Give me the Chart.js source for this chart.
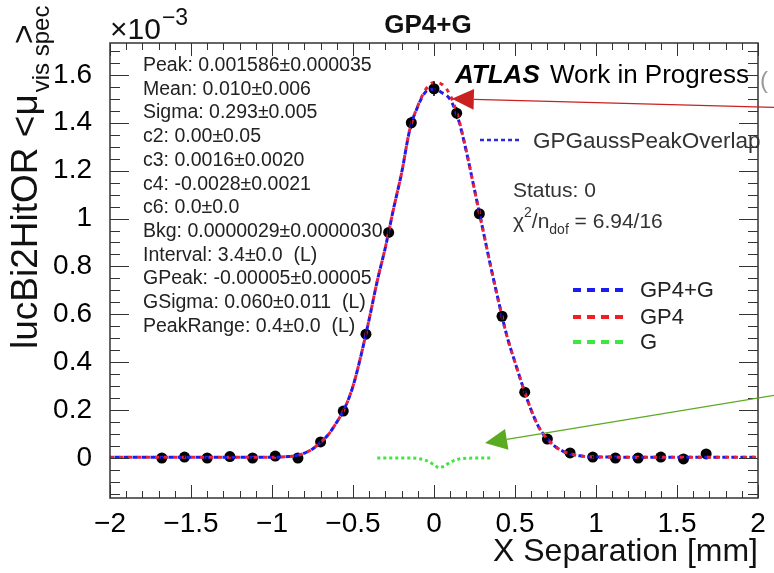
<!DOCTYPE html>
<html>
<head>
<meta charset="utf-8">
<script src="https://cdn.jsdelivr.net/npm/chart.js@4.4.1/dist/chart.umd.min.js"></script>
<style>
  html, body { margin: 0; padding: 0; background: #fff; }
</style>
</head>
<body>
<canvas id="myChart" width="774" height="573"></canvas>
<script>
// Scan points (x in mm, y in units of 1e-3)
const scanX = [-1.68, -1.54, -1.40, -1.26, -1.12, -0.98, -0.84, -0.70, -0.56, -0.42, -0.28, -0.14,
  0.00, 0.14, 0.28, 0.42, 0.56, 0.70, 0.84, 0.98, 1.12, 1.26, 1.40, 1.54, 1.68];
const lumi = [0.000, 0.004, 0.000, 0.006, 0.000, 0.008, 0.000, 0.067, 0.196, 0.517, 0.942, 1.400,
  1.542, 1.440, 1.020, 0.592, 0.275, 0.079, 0.021, 0.004, 0.000, 0.000, 0.004, -0.004, 0.017];
const lumiErr = [0.004, 0.004, 0.004, 0.004, 0.004, 0.004, 0.004, 0.006, 0.010, 0.015, 0.020, 0.025,
  0.030, 0.025, 0.020, 0.015, 0.010, 0.006, 0.004, 0.004, 0.004, 0.004, 0.004, 0.004, 0.004];

// Fit curves
const curveX = [-2.0, -1.0, -0.9, -0.85, -0.8, -0.75, -0.7, -0.65, -0.6, -0.55, -0.5, -0.45, -0.4,
  -0.35, -0.3, -0.25, -0.2, -0.15, -0.1, -0.05, 0.0, 0.05, 0.1, 0.15, 0.2, 0.25, 0.3, 0.35, 0.4,
  0.45, 0.5, 0.55, 0.6, 0.65, 0.7, 0.75, 0.8, 0.85, 0.9, 1.0, 2.0];
const gp4Fit = [0.003, 0.003, 0.006, 0.010, 0.020, 0.038, 0.065, 0.100, 0.150, 0.210, 0.300, 0.430, 0.580,
  0.740, 0.880, 1.040, 1.190, 1.370, 1.470, 1.540, 1.568, 1.560, 1.515, 1.420, 1.280, 1.120, 0.960, 0.800, 0.650,
  0.510, 0.400, 0.295, 0.200, 0.125, 0.079, 0.047, 0.027, 0.016, 0.009, 0.004, 0.003];
const gp4gFit = [0.003, 0.003, 0.006, 0.010, 0.020, 0.038, 0.065, 0.100, 0.150, 0.210, 0.300, 0.430, 0.580,
  0.740, 0.880, 1.040, 1.190, 1.370, 1.468, 1.530, 1.540, 1.525, 1.497, 1.415, 1.279, 1.120, 0.960, 0.800, 0.650,
  0.510, 0.400, 0.295, 0.200, 0.125, 0.079, 0.047, 0.027, 0.016, 0.009, 0.004, 0.003];
const gX = [-0.35, -0.15, -0.1, -0.05, 0.0, 0.03, 0.06, 0.1, 0.15, 0.2, 0.35];
const gFit = [0.0, 0.0, -0.002, -0.010, -0.028, -0.040, -0.035, -0.018, -0.005, -0.001, 0.0];

const fitParams = [
  "Peak: 0.001586\u00b10.000035",
  "Mean: 0.010\u00b10.006",
  "Sigma: 0.293\u00b10.005",
  "c2: 0.00\u00b10.05",
  "c3: 0.0016\u00b10.0020",
  "c4: -0.0028\u00b10.0021",
  "c6: 0.0\u00b10.0",
  "Bkg: 0.0000029\u00b10.0000030",
  "Interval: 3.4\u00b10.0  (L)",
  "GPeak: -0.00005\u00b10.00005",
  "GSigma: 0.060\u00b10.011  (L)",
  "PeakRange: 0.4\u00b10.0  (L)"
];

const FONT = "'Liberation Sans', Arial, Helvetica, sans-serif";
const toPts = (xs, ys) => xs.map((x, i) => ({ x: x, y: ys[i] }));
const minus = (v) => (v < 0 ? "\u2212" + String(Math.abs(v)) : String(v));

// ROOT-like frame, ticks, text and arrows
const rootStyle = {
  id: "rootStyle",
  afterDatasetsDraw(chart) {
    const ctx = chart.ctx;
    const xs = chart.scales.x;
    const ys = chart.scales.y;

    // error bars
    ctx.save();
    ctx.strokeStyle = "#000";
    ctx.lineWidth = 1.5;
    scanX.forEach((x, i) => {
      const px = xs.getPixelForValue(x);
      ctx.beginPath();
      ctx.moveTo(px, ys.getPixelForValue(lumi[i] - lumiErr[i]));
      ctx.lineTo(px, ys.getPixelForValue(lumi[i] + lumiErr[i]));
      ctx.stroke();
    });
    ctx.restore();
  },
  afterDraw(chart) {
    const ctx = chart.ctx;
    const xs = chart.scales.x;
    const ys = chart.scales.y;
    const a = chart.chartArea;
    ctx.save();

    // frame
    ctx.strokeStyle = "#333";
    ctx.lineWidth = 1.5;
    ctx.strokeRect(a.left, a.top, a.right - a.left, a.bottom - a.top);

    // ticks, pointing inside
    ctx.lineWidth = 1;
    ctx.beginPath();
    for (let i = -20; i <= 20; i++) {
      const px = Math.round(xs.getPixelForValue(i / 10)) + 0.5;
      const len = i % 5 === 0 ? 13 : 7;
      ctx.moveTo(px, a.bottom); ctx.lineTo(px, a.bottom - len);
      ctx.moveTo(px, a.top); ctx.lineTo(px, a.top + len);
    }
    for (let i = -3; i <= 34; i++) {
      const py = Math.round(ys.getPixelForValue(i * 0.05)) + 0.5;
      const len = i % 4 === 0 ? 19 : 10;
      ctx.moveTo(a.left, py); ctx.lineTo(a.left + len, py);
      ctx.moveTo(a.right, py); ctx.lineTo(a.right - len, py);
    }
    ctx.stroke();

    ctx.fillStyle = "#111";
    ctx.textBaseline = "alphabetic";

    // title
    ctx.font = "bold 26px " + FONT;
    ctx.textAlign = "center";
    ctx.fillText("GP4+G", 428, 33);

    // x10^-3
    ctx.textAlign = "left";
    ctx.font = "30px " + FONT;
    ctx.fillText("\u00d710", 110, 39);
    const wx = ctx.measureText("\u00d710").width;
    ctx.font = "23px " + FONT;
    ctx.fillText("\u22123", 110 + wx + 1, 25);

    // x axis title
    ctx.textAlign = "right";
    ctx.font = "32px " + FONT;
    ctx.fillText("X Separation [mm]", a.right, 561);

    // y axis title (rotated)
    ctx.save();
    ctx.translate(37, 349);
    ctx.rotate(-Math.PI / 2);
    ctx.textAlign = "left";
    ctx.font = "37px " + FONT;
    const mainTxt = "lucBi2HitOR <\u03bc";
    ctx.fillText(mainTxt, 0, 0);
    const w = ctx.measureText(mainTxt).width;
    ctx.font = "24px " + FONT;
    ctx.fillText("vis spec", w + 2, 12);
    ctx.font = "34px " + FONT;
    ctx.fillText(">", w + 50, -2);
    ctx.restore();

    // fit parameters
    ctx.font = "19.5px " + FONT;
    ctx.fillStyle = "#222";
    ctx.textAlign = "left";
    fitParams.forEach((t, i) => ctx.fillText(t, 143, 71 + i * 23.7));

    // ATLAS label
    ctx.fillStyle = "#000";
    ctx.font = "italic bold 26px " + FONT;
    ctx.fillText("ATLAS", 455, 83);
    ctx.font = "26px " + FONT;
    ctx.fillText("Work in Progress", 550, 83);

    // fit function entry
    ctx.strokeStyle = "#2a2ae0";
    ctx.lineWidth = 2.5;
    ctx.setLineDash([4, 3]);
    ctx.beginPath(); ctx.moveTo(480, 140); ctx.lineTo(521, 140); ctx.stroke();
    ctx.setLineDash([]);
    ctx.fillStyle = "#333";
    ctx.font = "22.5px " + FONT;
    ctx.fillText("GPGaussPeakOverlap", 533, 148);

    ctx.font = "21px " + FONT;
    ctx.fillText("Status: 0", 513, 197);
    ctx.fillText("\u03c7", 513, 228);
    let xx = 513 + ctx.measureText("\u03c7").width;
    ctx.font = "14px " + FONT;
    ctx.fillText("2", xx, 217);
    xx += ctx.measureText("2").width;
    ctx.font = "21px " + FONT;
    ctx.fillText("/n", xx, 228);
    xx += ctx.measureText("/n").width;
    ctx.font = "14px " + FONT;
    ctx.fillText("dof", xx, 234);
    xx += ctx.measureText("dof").width;
    ctx.font = "21px " + FONT;
    ctx.fillText(" = 6.94/16", xx, 228);

    // legend
    const legendItems = [
      { label: "GP4+G", color: "#1c1cf0", y: 290 },
      { label: "GP4", color: "#f02020", y: 317 },
      { label: "G", color: "#3ee63e", y: 342 }
    ];
    legendItems.forEach((it) => {
      ctx.strokeStyle = it.color;
      ctx.lineWidth = 4;
      ctx.setLineDash([8, 6]);
      ctx.beginPath(); ctx.moveTo(573, it.y); ctx.lineTo(623, it.y); ctx.stroke();
      ctx.setLineDash([]);
      ctx.fillStyle = "#222";
      ctx.font = "22px " + FONT;
      ctx.fillText(it.label, 640, it.y + 7);
    });

    // partly hidden glyph at the right edge
    ctx.fillStyle = "#999";
    ctx.font = "24px " + FONT;
    ctx.fillText("(", 760, 88);

    // arrows
    drawArrow(ctx, xs.getPixelForValue(0.11), ys.getPixelForValue(1.50), 800, 108, "#c92020");
    drawArrow(ctx, xs.getPixelForValue(0.315), ys.getPixelForValue(0.063), 800, 391, "#5aaa22");

    ctx.restore();
  }
};

function drawArrow(ctx, tx, ty, ex, ey, color) {
  const dx = ex - tx, dy = ey - ty;
  const len = Math.hypot(dx, dy);
  const ux = dx / len, uy = dy / len;
  const bx = tx + ux * 22, by = ty + uy * 22;
  ctx.strokeStyle = color;
  ctx.fillStyle = color;
  ctx.lineWidth = 1.3;
  ctx.beginPath(); ctx.moveTo(bx, by); ctx.lineTo(ex, ey); ctx.stroke();
  ctx.beginPath();
  ctx.moveTo(tx, ty);
  ctx.lineTo(bx - uy * 10.5, by + ux * 10.5);
  ctx.lineTo(bx + uy * 10.5, by - ux * 10.5);
  ctx.closePath();
  ctx.fill();
}

const data = {
  datasets: [
    {
      label: "GP4+G",
      data: toPts(curveX, gp4gFit),
      showLine: true,
      borderColor: "#1c1cf0",
      borderWidth: 3,
      borderDash: [5, 4],
      borderDashOffset: 4.5,
      cubicInterpolationMode: "monotone",
      pointRadius: 0,
      order: 2
    },
    {
      label: "GP4",
      data: toPts(curveX, gp4Fit),
      showLine: true,
      borderColor: "#e8203a",
      borderWidth: 3,
      borderDash: [4, 5],
      cubicInterpolationMode: "monotone",
      pointRadius: 0,
      order: 1
    },
    {
      label: "G",
      data: toPts(gX, gFit),
      showLine: true,
      borderColor: "#3ee63e",
      borderWidth: 3,
      borderDash: [3, 3],
      cubicInterpolationMode: "monotone",
      pointRadius: 0,
      order: 1
    },
    {
      label: "Data",
      data: toPts(scanX, lumi),
      showLine: false,
      pointRadius: 5.5,
      pointBackgroundColor: "#000",
      pointBorderWidth: 0,
      order: 3
    }
  ]
};

const config = {
  type: "scatter",
  data: data,
  options: {
    responsive: false,
    animation: false,
    devicePixelRatio: 1,
    layout: { padding: { top: 43, right: 16, left: 0, bottom: 0 } },
    plugins: { legend: { display: false }, tooltip: { enabled: false } },
    scales: {
      x: {
        type: "linear",
        min: -2,
        max: 2,
        grid: { display: false },
        border: { display: false },
        ticks: {
          stepSize: 0.5,
          padding: 1,
          color: "#000",
          font: { family: FONT, size: 28 },
          callback: (v) => minus(v)
        },
        afterFit: (s) => { s.height = 75; }
      },
      y: {
        type: "linear",
        min: -0.167,
        max: 1.733,
        grid: { display: false },
        border: { display: false },
        ticks: {
          stepSize: 0.2,
          includeBounds: false,
          padding: 10,
          color: "#000",
          font: { family: FONT, size: 28 },
          callback: (v) => minus(Math.round(v * 10) / 10)
        },
        afterFit: (s) => { s.width = 110; }
      }
    }
  },
  plugins: [rootStyle]
};

const ctx = document.getElementById("myChart").getContext("2d");
const myChart = new Chart(ctx, config);
</script>
</body>
</html>
